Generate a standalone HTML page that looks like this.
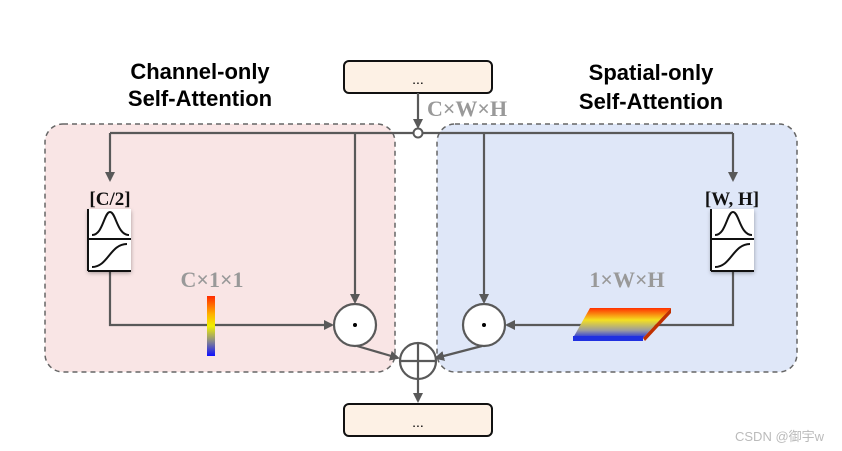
<!DOCTYPE html>
<html><head><meta charset="utf-8"><style>
html,body{margin:0;padding:0;background:#fff;}
svg{display:block;}
</style></head><body>
<svg width="842" height="451" viewBox="0 0 842 451" xmlns="http://www.w3.org/2000/svg">
<defs>
<marker id="ar" markerWidth="10" markerHeight="10" refX="8" refY="5" orient="auto" markerUnits="userSpaceOnUse">
<path d="M0,0 L10,5 L0,10 z" fill="#595959"/></marker>
<linearGradient id="bar" x1="0" y1="0" x2="0" y2="1">
<stop offset="0" stop-color="#ff2a00"/><stop offset="0.3" stop-color="#ffb000"/><stop offset="0.5" stop-color="#f0f000"/><stop offset="0.75" stop-color="#8a8a8a"/><stop offset="1" stop-color="#1010ff"/></linearGradient>
<linearGradient id="pl" x1="0" y1="0" x2="0" y2="1">
<stop offset="0" stop-color="#ff3000"/><stop offset="0.4" stop-color="#f5e020"/><stop offset="0.75" stop-color="#9a9aa0"/><stop offset="1" stop-color="#2030e0"/></linearGradient>
<filter id="sh" x="-30%" y="-30%" width="160%" height="160%"><feDropShadow dx="0" dy="2" stdDeviation="2" flood-color="#000" flood-opacity="0.35"/></filter>
</defs>
<rect x="45" y="124" width="350" height="248" rx="18" fill="#f9e5e5" stroke="#666" stroke-width="1.5" stroke-dasharray="5,4"/>
<rect x="437" y="124" width="360" height="248" rx="18" fill="#dfe7f8" stroke="#666" stroke-width="1.5" stroke-dasharray="5,4"/>
<g font-family="Liberation Sans, sans-serif" font-weight="bold" font-size="22" fill="#000" text-anchor="middle">
<text x="200" y="79">Channel-only</text><text x="200" y="106">Self-Attention</text>
<text x="651" y="80">Spatial-only</text><text x="651" y="109">Self-Attention</text>
</g>
<rect x="344" y="61" width="148" height="32" rx="5" fill="#fdf1e5" stroke="#111" stroke-width="2"/>
<text x="418" y="84" text-anchor="middle" font-family="Liberation Sans, sans-serif" font-size="14">...</text>
<rect x="344" y="404" width="148" height="32" rx="5" fill="#fdf1e5" stroke="#111" stroke-width="2"/>
<text x="418" y="427" text-anchor="middle" font-family="Liberation Sans, sans-serif" font-size="14">...</text>
<g stroke="#595959" stroke-width="2.2" fill="none">
<line x1="418" y1="93" x2="418" y2="127" marker-end="url(#ar)"/>
<line x1="110" y1="133" x2="413" y2="133"/>
<line x1="422" y1="133" x2="733" y2="133"/>
<line x1="110" y1="133" x2="110" y2="180" marker-end="url(#ar)"/>
<line x1="355" y1="133" x2="355" y2="302" marker-end="url(#ar)"/>
<line x1="484" y1="133" x2="484" y2="302" marker-end="url(#ar)"/>
<line x1="733" y1="133" x2="733" y2="180" marker-end="url(#ar)"/>
<polyline points="110,272 110,325 332,325" marker-end="url(#ar)"/>
<polyline points="733,272 733,325 507,325" marker-end="url(#ar)"/>
<line x1="357" y1="346" x2="398" y2="358" marker-end="url(#ar)"/>
<line x1="482" y1="346" x2="436" y2="358" marker-end="url(#ar)"/>
<line x1="418" y1="379" x2="418" y2="401" marker-end="url(#ar)"/>
</g>
<circle cx="418" cy="133" r="4.5" fill="#fff" stroke="#595959" stroke-width="2"/>
<circle cx="355" cy="325" r="21" fill="#fff" stroke="#595959" stroke-width="2.2"/>
<circle cx="355" cy="325" r="2" fill="#000"/>
<circle cx="484" cy="325" r="21" fill="#fff" stroke="#595959" stroke-width="2.2"/>
<circle cx="484" cy="325" r="2" fill="#000"/>
<circle cx="418" cy="361" r="18" fill="#fff" stroke="#595959" stroke-width="2.2"/>
<line x1="418" y1="343" x2="418" y2="379" stroke="#595959" stroke-width="2.2"/>
<line x1="400" y1="361" x2="436" y2="361" stroke="#595959" stroke-width="2.2"/>
<rect x="207" y="296" width="8" height="60" fill="url(#bar)"/>
<polygon points="590,308 671,308 643,338 573,338" fill="url(#pl)"/>
<polygon points="671,308 671,313 645,341 643,338" fill="#c03000"/>
<rect x="573" y="336" width="70" height="5" fill="#2030e0"/>
<g font-family="Liberation Serif, serif" font-weight="bold" fill="#999" font-size="22">
<text x="427" y="116">C×W×H</text>
<text x="212" y="287" text-anchor="middle">C×1×1</text>
<text x="627" y="287" text-anchor="middle">1×W×H</text>
</g>
<g font-family="Liberation Serif, serif" font-weight="bold" font-size="19" fill="#111" text-anchor="middle">
<text x="110" y="205">[C/2]</text>
<text x="732" y="205">[W, H]</text>
</g>
<g filter="url(#sh)">
<rect x="88" y="209" width="43" height="62" fill="#fff"/>
</g>
<g fill="none" stroke="#111" stroke-width="2">
<line x1="88" y1="209" x2="88" y2="271"/><line x1="88" y1="239" x2="131" y2="239"/><line x1="88" y1="271" x2="131" y2="271"/>
<path d="M92,235 C103,235 104,212 110,212 C116,212 117,235 129,235"/>
<path d="M92,267 C108,267 110,244 127,244"/>
</g>
<g filter="url(#sh)">
<rect x="711" y="209" width="43" height="62" fill="#fff"/>
</g>
<g fill="none" stroke="#111" stroke-width="2">
<line x1="711" y1="209" x2="711" y2="271"/><line x1="711" y1="239" x2="754" y2="239"/><line x1="711" y1="271" x2="754" y2="271"/>
<path d="M715,235 C726,235 727,212 733,212 C739,212 740,235 752,235"/>
<path d="M715,267 C731,267 733,244 750,244"/>
</g>
<text x="735" y="441" font-family="Liberation Sans, 'Noto Sans CJK SC', sans-serif" font-size="13" fill="#bbb">CSDN @御宇w</text>
</svg>
</body></html>
